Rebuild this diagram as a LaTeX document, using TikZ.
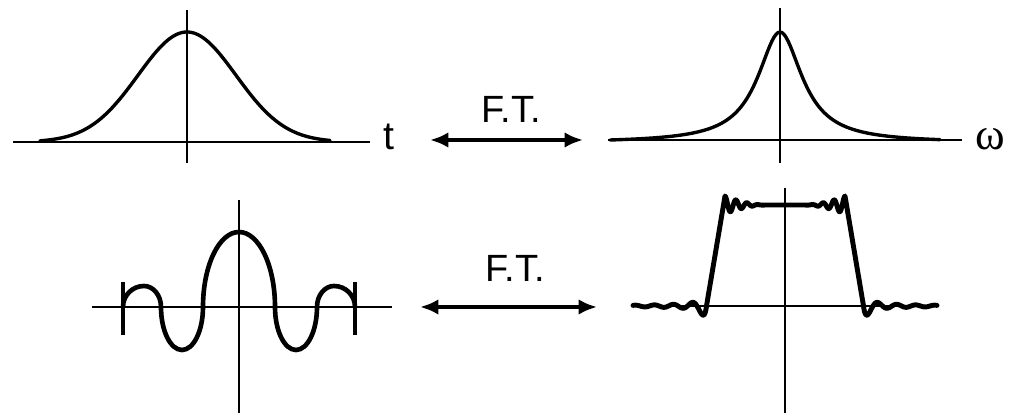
\documentclass[tikz,border=0pt]{standalone}
\usepackage{fontspec}
\setmainfont{Liberation Sans}
\newfontfamily\omegafont{Liberation Serif}
\usepackage{tikz}
\usetikzlibrary{arrows.meta, positioning}

\begin{document}
\begin{tikzpicture}[
    x=0.25cm, y=0.25cm,
    axis/.style={line width=1.8pt},
    curve/.style={line width=2.4pt, line join=round, line cap=round},
    thickcurve/.style={line width=3.3pt, line join=round, line cap=round},
    tickmark/.style={line width=2.2pt},
    arrow/.style={{Latex[length=13pt,width=11pt]}-{Latex[length=13pt,width=11pt]},
                  line width=2.8pt},
    ftlabel/.style={font=\fontsize{27}{32}\selectfont, anchor=base, inner sep=0pt},
]
\useasboundingbox (0,0) rectangle (101.4,41.6);

% Top left: bell curve in time
\begin{scope}[shift={(18.7,27.4)}]
  \draw[axis] (-17.4,0) -- (18.3,0);
  \draw[axis] (0,13.2) -- (0,-2.1);
  \draw[curve] plot[domain=-14.7:14.3, samples=120]
      (\x,{11*exp(-((\x)*(\x))/48.02)});
\end{scope}
\node[ftlabel, font=\fontsize{28}{33}\selectfont] (tlab) at (38.9,26.6) {t};

% Top right: sharp peak in frequency
\begin{scope}[shift={(78.0,27.6)}]
  \draw[axis] (-17.2,0) -- (18.2,0);
  \draw[axis] (0,13.2) -- (0,-2.3);
  \draw[curve] plot[domain=-17:16, samples=160]
      (\x,{10.8*(1/(1+((\x)/2.7)^2)-0.0246)/0.9754});
\end{scope}
\node[ftlabel, font=\omegafont\fontsize{32}{38}\selectfont] (wlab) at (99.0,26.6) {ω};

% Top transform arrow
\coordinate (ftTopL) at (43.0,27.6);
\coordinate (ftTopR) at (58.3,27.6);
\draw[arrow] (ftTopL) -- (ftTopR);
\node[ftlabel] (ftTop) at (51.1,29.3) {F.T.};

% Bottom left: truncated sinc
\begin{scope}[shift={(23.9,10.9)}]
  \draw[axis] (-14.7,0) -- (15.3,0);
  \draw[axis] (0,10.7) -- (0,-10.6);
  \draw[tickmark] (-11.6,2.5) -- (-11.6,-2.8);
  \draw[tickmark] (11.6,2.5) -- (11.6,-2.8);
  \foreach \s in {1,-1}
    \draw[thickcurve, xscale=\s] (0,7.5)
      .. controls (1.99,7.5) and (3.6,4.14) .. (3.6,0)
      .. controls (3.6,-2.37) and (4.54,-4.3) .. (5.7,-4.3)
      .. controls (6.86,-4.3) and (7.8,-2.37) .. (7.8,0)
      .. controls (7.8,1.16) and (8.56,2.1) .. (9.5,2.1)
      .. controls (10.66,2.1) and (11.6,1.16) .. (11.6,0);
\end{scope}

% Bottom transform arrow
\coordinate (ftBotL) at (42.0,10.9);
\coordinate (ftBotR) at (59.7,10.9);
\draw[arrow] (ftBotL) -- (ftBotR);
\node[ftlabel] (ftBot) at (51.5,13.4) {F.T.};

% Bottom right: band with ringing
\begin{scope}[shift={(78.5,11.0)}]
  \draw[axis] (-15.2,0) -- (15.3,0);
  \draw[axis] (0,11.8) -- (0,-10.7);
  \foreach \s in {1,-1}
    \draw[thickcurve, line width=3.5pt, xscale=\s]
      plot[domain=0:6, samples=121]
        (\x,{10.1+0.9*exp(-(6-\x)/2)*exp(-((6-\x)/3)^4)*cos(360*(6-\x)/1.1)})
      -- plot[domain=7.85:15.2, samples=148]
        (\x,{-0.6/(\x-7.6)*sin(360*(\x-7.85)/1.9)});
\end{scope}
\end{tikzpicture}
\end{document}
